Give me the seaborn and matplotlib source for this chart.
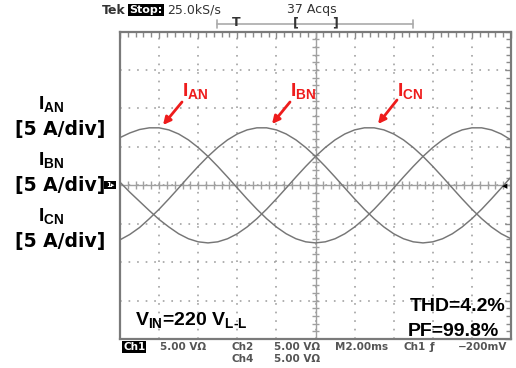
import numpy as np
import pandas as pd
import matplotlib
matplotlib.use("Agg")
import matplotlib.pyplot as plt
import matplotlib.transforms as mtransforms
from matplotlib.ticker import MultipleLocator
import seaborn as sns

# Sample times (ms), 2 ms/div over 10 divisions
time_ms = [0.0, 0.5, 1.0, 1.5, 2.0, 2.5, 3.0, 3.5, 4.0, 4.5, 5.0, 5.5, 6.0, 6.5,
           7.0, 7.5, 8.0, 8.5, 9.0, 9.5, 10.0, 10.5, 11.0, 11.5, 12.0, 12.5,
           13.0, 13.5, 14.0, 14.5, 15.0, 15.5, 16.0, 16.5, 17.0, 17.5, 18.0,
           18.5, 19.0, 19.5, 20.0]

# Phase currents (A)
i_an = [6.20, 6.80, 7.25, 7.47, 7.47, 7.20, 6.67, 5.90, 4.91, 3.75, 2.45, 1.07,
        -0.36, -1.77, -3.12, -4.35, -5.43, -6.31, -6.96, -7.36, -7.50, -7.36,
        -6.96, -6.31, -5.43, -4.35, -3.12, -1.77, -0.36, 1.07, 2.45, 3.75, 4.91,
        5.90, 6.67, 7.20, 7.47, 7.47, 7.20, 6.67, 5.90]
i_bn = [-7.10, -6.40, -5.50, -4.35, -3.12, -1.77, -0.36, 1.07, 2.45, 3.75, 4.91,
        5.90, 6.67, 7.20, 7.47, 7.47, 7.20, 6.67, 5.90, 4.91, 3.75, 2.45, 1.07,
        -0.36, -1.77, -3.12, -4.35, -5.43, -6.31, -6.96, -7.36, -7.50, -7.36,
        -6.96, -6.31, -5.43, -4.35, -3.12, -1.77, -0.36, 1.07]
i_cn = [0.40, -0.90, -2.10, -3.30, -4.45, -5.43, -6.31, -6.96, -7.36, -7.50,
        -7.36, -6.96, -6.31, -5.43, -4.35, -3.12, -1.77, -0.36, 1.07, 2.45, 3.75,
        4.91, 5.90, 6.67, 7.20, 7.47, 7.47, 7.20, 6.67, 5.90, 4.91, 3.75, 2.45,
        1.07, -0.36, -1.77, -3.12, -4.35, -5.43, -6.31, -6.96]

phases = ["I_AN", "I_BN", "I_CN"]
df = pd.DataFrame({
    "t": time_ms * 3,
    "I": i_an + i_bn + i_cn,
    "phase": [p for p in phases for _ in time_ms],
})

sns.set_theme(style="white")
plt.rcParams["mathtext.fontset"] = "custom"
plt.rcParams["mathtext.bf"] = "Liberation Sans:bold"
plt.rcParams["mathtext.rm"] = "Liberation Sans:bold"
plt.rcParams["mathtext.it"] = "Liberation Sans:bold"

W, H = 516, 368
fig = plt.figure(figsize=(W / 100, H / 100), dpi=100)
fig.patch.set_facecolor("white")
# pixel coordinates measured from the top-left corner
px = mtransforms.Affine2D().scale(1 / W, -1 / H).translate(0, 1) + fig.transFigure

left, top, right, bottom = 120, 31.5, 511, 339
ax = fig.add_axes([left / W, 1 - bottom / H, (right - left) / W, (bottom - top) / H])

# graticule: 10 x 8 divisions, 2 ms/div and 5 A/div
ax.set_xlim(0, 20)
ax.set_ylim(-20, 20)
ax.set_xticks(np.arange(0, 21, 2))
ax.set_yticks(np.arange(-20, 21, 5))
ax.xaxis.set_minor_locator(MultipleLocator(0.4))
ax.yaxis.set_minor_locator(MultipleLocator(1))
ax.set_axisbelow(True)
ax.grid(True, which="major", color="#9a9a9a", linestyle=(0, (1.1, 4.5)), linewidth=1.1)
ax.tick_params(which="both", direction="in", top=True, right=True, color="#8a8a8a",
               labelleft=False, labelbottom=False, width=1)
ax.tick_params(which="major", length=4)
ax.tick_params(which="minor", length=3.5)
for s in ax.spines.values():
    s.set_color("#7a7a7a")
    s.set_linewidth(1.6)

# centre cross with 0.2-div marks
ax.axhline(0, color="#a0a0a0", lw=1.0, zorder=1)
ax.axvline(10, color="#a0a0a0", lw=1.0, zorder=1)
ax.vlines(np.arange(0.4, 20, 0.4), -0.5, 0.5, color="#a0a0a0", lw=1.0, zorder=1)
ax.hlines(np.arange(-19, 20, 1), 9.8, 10.2, color="#a0a0a0", lw=1.0, zorder=1)

sns.lineplot(data=df, x="t", y="I", hue="phase", palette=["#767676"] * 3,
             legend=False, ax=ax, linewidth=1.05, estimator=None, zorder=3)
ax.set_xlabel("")
ax.set_ylabel("")

# channel marker at the left edge and trigger marker at the right
fig.text(110, 185, "1\u25b8", transform=px, color="white", fontsize=5, fontweight="bold",
         ha="center", va="center", family="DejaVu Sans",
         bbox=dict(facecolor="black", edgecolor="none", pad=1.0))
fig.text(505, 186, "\u25c0", transform=px, color="black", fontsize=5,
         ha="center", va="center", family="DejaVu Sans")

# header
hdr = dict(transform=px, color="#333333", fontsize=9, va="center", family="DejaVu Sans")
fig.text(102, 10, "Tek", fontweight="bold", **hdr)
fig.text(129, 10, "Stop:", fontweight="bold", color="white", transform=px, fontsize=8,
         va="center", family="DejaVu Sans",
         bbox=dict(facecolor="black", edgecolor="none", pad=1.0))
fig.text(167, 10, "25.0kS/s", **hdr)
fig.text(287, 10, "37 Acqs", **hdr)
fig.add_artist(plt.Line2D([217, 413], [24, 24], transform=px, color="#aaaaaa", lw=1.2))
fig.add_artist(plt.Line2D([217, 217], [20, 28], transform=px, color="#aaaaaa", lw=1.2))
fig.add_artist(plt.Line2D([413, 413], [20, 28], transform=px, color="#aaaaaa", lw=1.2))
mk = dict(transform=px, color="#333333", fontsize=9, fontweight="bold", ha="center",
          va="center", family="DejaVu Sans")
fig.text(236, 23, "T", **mk)
fig.text(296, 23, "[", **mk)
fig.text(335, 23, "]", **mk)

# footer
ft = dict(transform=px, color="#555555", fontsize=7.5, fontweight="bold", va="center",
          family="DejaVu Sans")
fig.text(123, 347, "Ch1", color="white", transform=px, fontsize=7.5, fontweight="bold",
         va="center", family="DejaVu Sans",
         bbox=dict(facecolor="black", edgecolor="none", pad=0.8))
fig.text(160, 347, "5.00 V\u03a9", **ft)
fig.text(232, 347, "Ch2", **ft)
fig.text(274, 347, "5.00 V\u03a9", **ft)
fig.text(335, 347, "M2.00ms", **ft)
fig.text(403, 347, "Ch1", **ft)
fig.text(430, 347, "\u0192", **ft)
fig.text(507, 347, "\u2212200mV", ha="right", **ft)
fig.text(232, 359, "Ch4", **ft)
fig.text(274, 359, "5.00 V\u03a9", **ft)

# left-hand channel labels
for label, yc in zip([r"$\mathbf{I_{AN}}$", r"$\mathbf{I_{BN}}$", r"$\mathbf{I_{CN}}$"],
                     [104, 160, 216]):
    fig.text(51, yc, label, transform=px, fontsize=14, ha="center", va="center",
             color="black")
for yc in [130, 186, 242]:
    fig.text(60, yc, "[5 A/div]", transform=px, fontsize=13.5, fontweight="bold",
             ha="center", va="center", color="black", family="DejaVu Sans")

# red phase callouts
red = "#ee1c1c"
callouts = [
    (r"$\mathbf{I_{AN}}$", (182, 96), (182, 102), (163, 125)),
    (r"$\mathbf{I_{BN}}$", (290, 96), (290, 102), (272, 124)),
    (r"$\mathbf{I_{CN}}$", (397, 96), (397, 100), (378, 124)),
]
for label, pos, tail, head in callouts:
    fig.text(pos[0], pos[1], label, transform=px, fontsize=14, color=red,
             ha="left", va="baseline")
    ax.annotate("", xy=head, xytext=tail, xycoords=px, textcoords=px,
                annotation_clip=False,
                arrowprops=dict(arrowstyle="-|>", color=red, lw=2,
                                mutation_scale=11, shrinkA=0, shrinkB=0))

# measurement annotations inside the screen
fig.text(135, 325, r"$\mathbf{V_{IN}}$=220 $\mathbf{V_{L\text{-}L}}$", transform=px,
         fontsize=14, fontweight="bold", family="Liberation Sans", color="black",
         ha="left", va="baseline")
fig.text(505, 311, "THD=4.2%", transform=px, fontsize=14, fontweight="bold",
         family="Liberation Sans", color="black", ha="right", va="baseline")
fig.text(499, 336, "PF=99.8%", transform=px, fontsize=14, fontweight="bold",
         family="Liberation Sans", color="black", ha="right", va="baseline")

fig.savefig("out.png", dpi=100, facecolor="white")
